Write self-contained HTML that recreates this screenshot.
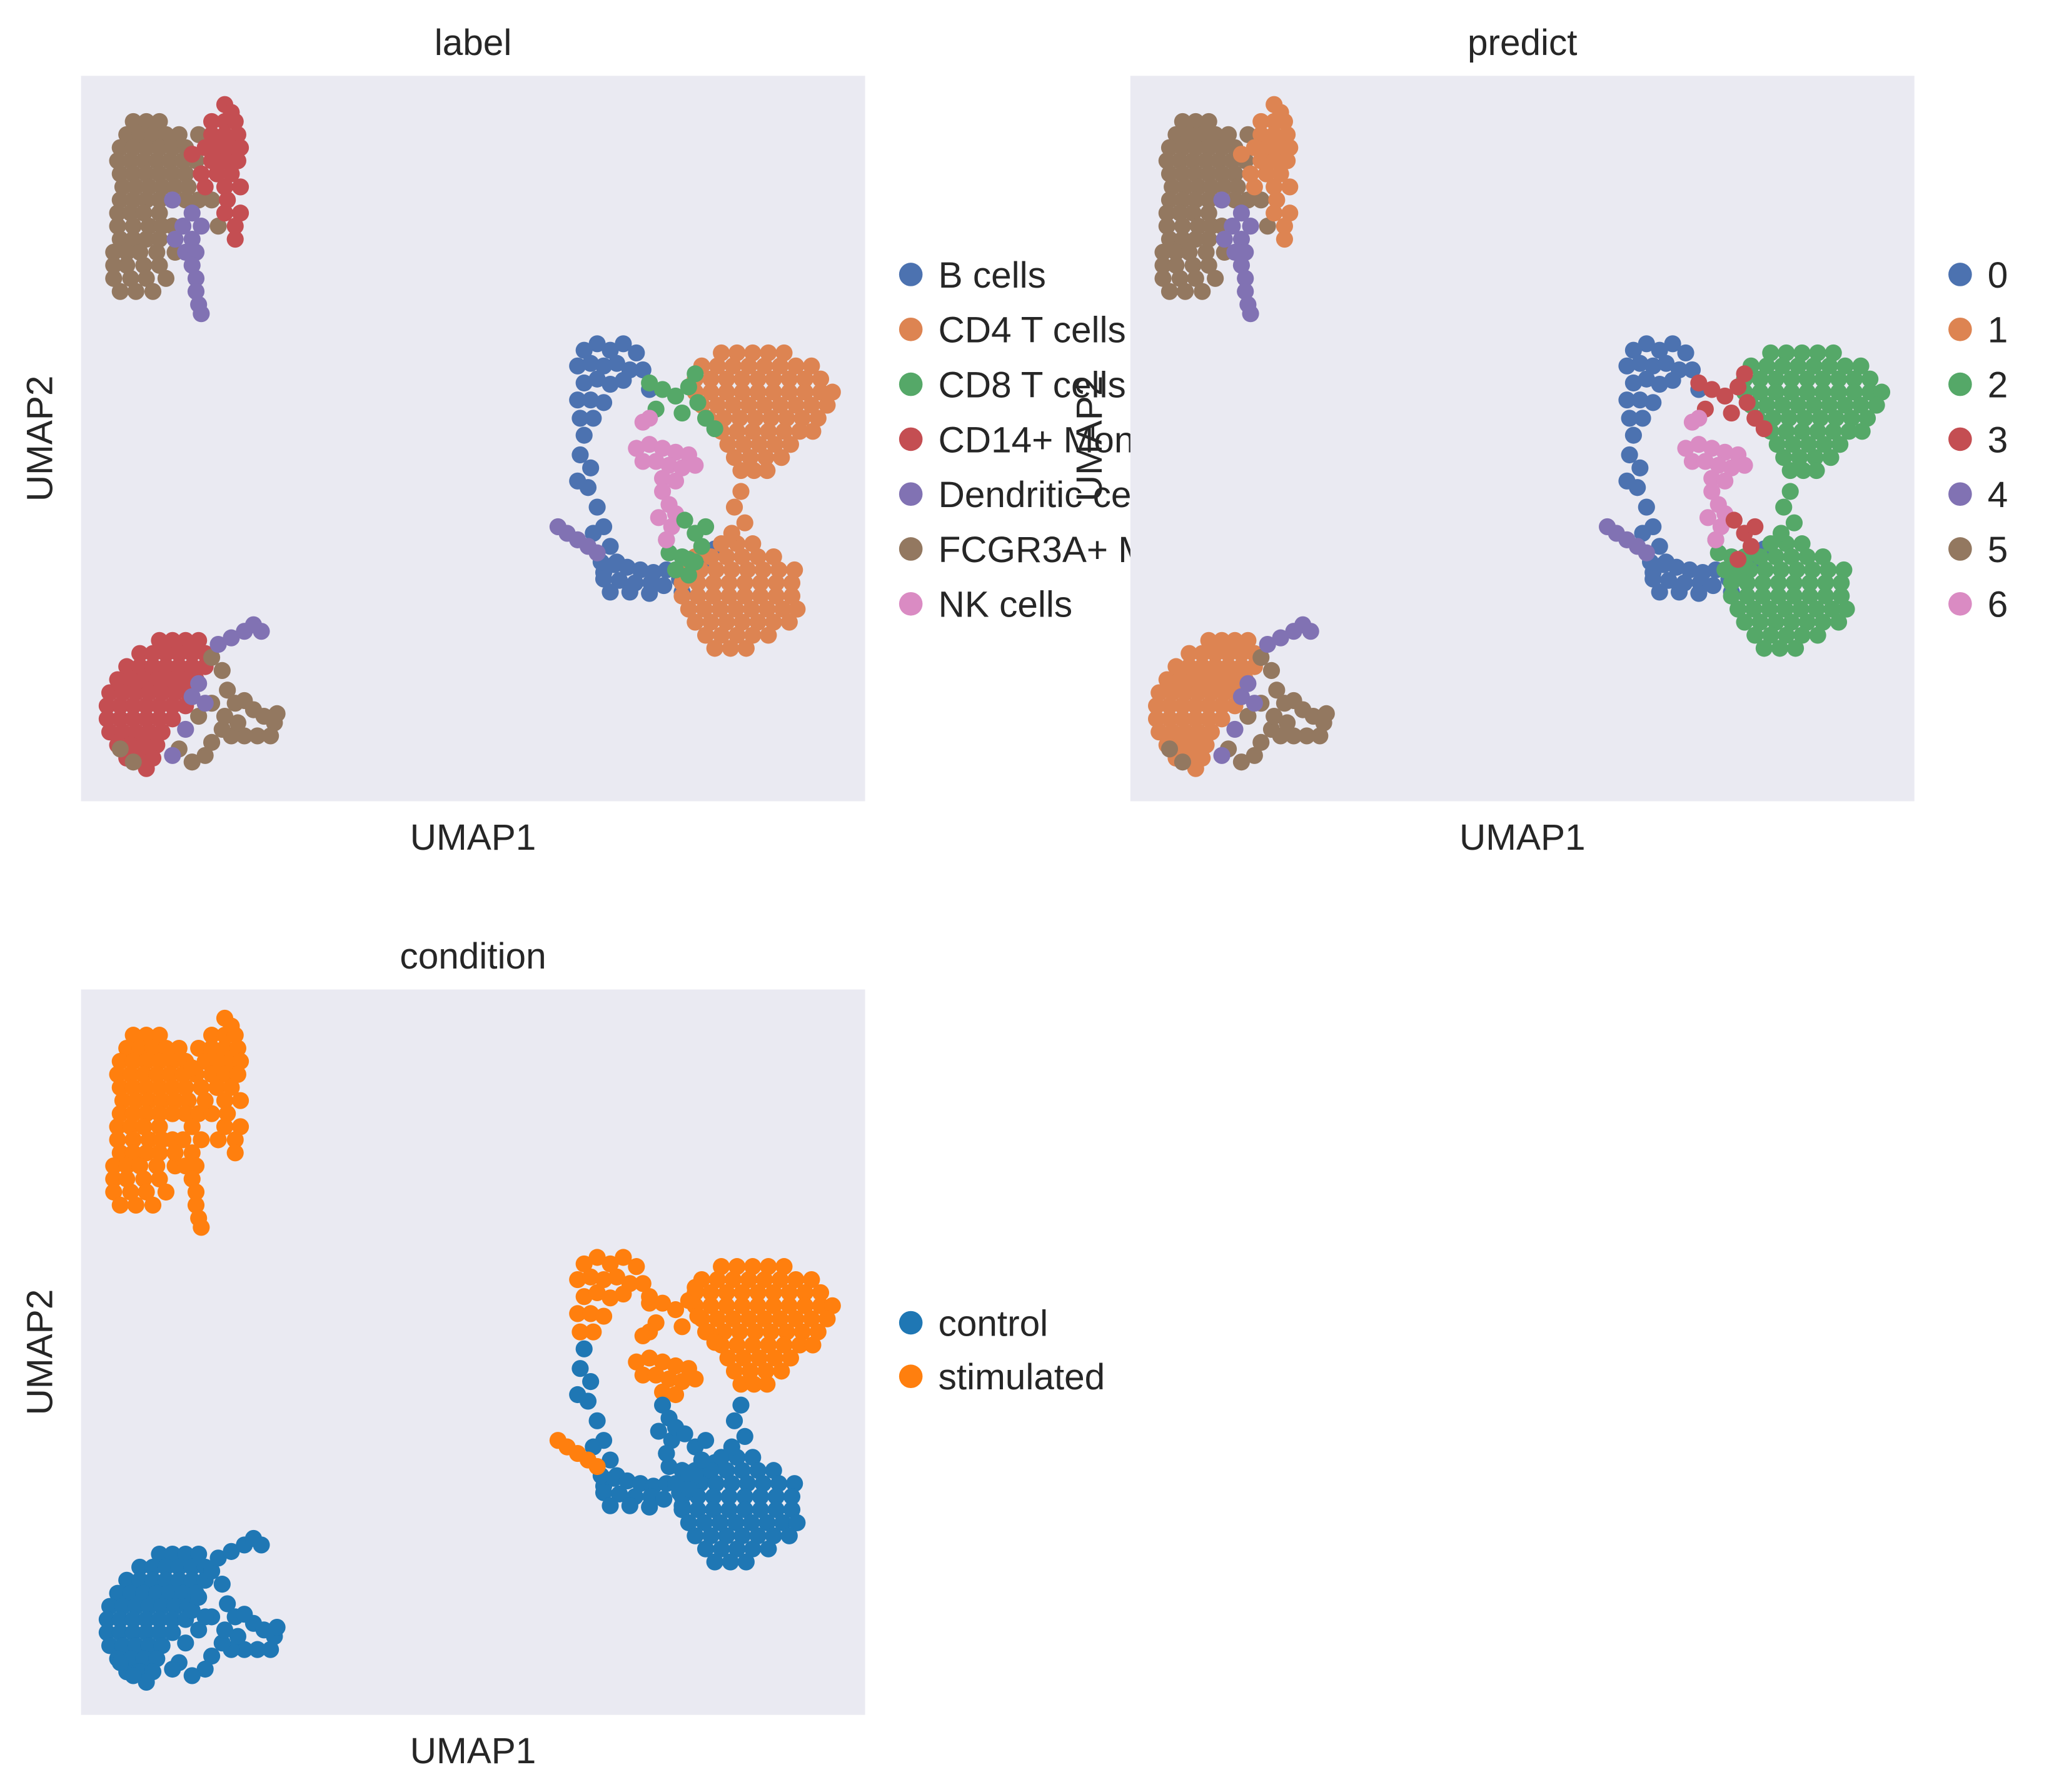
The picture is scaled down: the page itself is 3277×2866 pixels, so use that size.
<!DOCTYPE html>
<html><head><meta charset="utf-8"><style>
html,body{margin:0;padding:0;background:#fff}
svg{display:block}
text{font-family:"Liberation Sans",Arial,sans-serif;fill:#262626}
</style></head><body>
<svg id="fig" width="3277" height="2866" viewBox="0 0 1568 1371" preserveAspectRatio="none" xmlns="http://www.w3.org/2000/svg"></svg>
<script>
const labelCats = ["B cells","CD4 T cells","CD8 T cells","CD14+ Mono","Dendritic cells","FCGR3A+ Mono","NK cells"];
const predictCats = ["0","1","2","3","4","5","6"];
const conditionCats = ["control","stimulated"];
const deep = ["#4c72b0","#dd8452","#55a868","#c44e52","#8172b3","#937860","#da8bc3"];
const tab = ["#1f77b4","#ff7f0e"];
// groups: [label, predict, condition]
const groupCats = [[5,5,1],[3,1,1],[4,4,1],[3,1,0],[5,5,0],[4,4,0],[0,0,1],[0,0,0],[4,4,1],[1,2,1],[1,2,0],[2,3,1],[2,2,0],[6,6,1],[6,6,0],[2,3,0]];
const g1 = "40,35 50,35 60,35 35,45 45,45 55,45 65,45 75,45 30,55 40,55 50,55 60,55 70,55 80,55 28,65 38,65 48,65 58,65 68,65 78,65 88,65 30,75 40,75 50,75 60,75 70,75 80,75 32,85 42,85 52,85 62,85 72,85 82,85 30,95 40,95 50,95 60,95 70,95 80,95 90,95 28,105 38,105 48,105 60,105 28,115 40,115 52,115 62,115 30,125 40,125 50,125 60,125 25,135 35,135 45,135 58,135 25,145 35,145 48,145 60,145 25,155 38,155 50,155 65,155 30,165 42,165 55,165 90,45 100,95 72,135 105,115 70,115";
const g2 = "110,22 115,28 100,35 110,35 118,35 100,45 110,45 120,45 95,55 105,55 115,55 122,55 100,65 110,65 120,65 92,75 104,75 115,75 95,85 110,85 122,85 112,95 110,105 122,105 118,115 118,125 85,60";
const g3 = "85,105 78,115 92,115 85,125 72,125 80,135 88,135 85,145 88,155 88,165 90,175 92,182 70,95";
const g4 = "60,432 70,432 80,432 90,432 45,442 55,442 65,442 75,442 85,442 95,442 35,452 45,452 55,452 65,452 75,452 85,452 95,452 28,462 38,462 48,462 58,462 68,462 78,462 88,462 22,472 32,472 42,472 52,472 62,472 72,472 82,472 20,482 30,482 40,482 50,482 60,482 70,482 80,482 20,492 30,492 40,492 50,492 60,492 70,492 22,502 32,502 42,502 52,502 62,502 28,512 38,512 48,512 58,512 35,522 45,522 55,522 50,530";
const g5 = "100,445 108,455 112,470 118,480 125,478 132,485 140,490 148,495 145,505 135,505 125,505 115,505 108,500 100,510 95,520 85,525 75,515 30,515 40,525 120,495 150,488 110,490 90,490 100,480";
const g6 = "105,435 115,430 125,425 132,420 138,425 85,475 95,480 70,520 80,500 90,465";
const g7 = "385,210 395,205 405,210 415,205 425,212 380,222 390,220 400,222 410,220 420,225 385,235 395,232 405,236 415,233 380,248 390,248 400,250 382,262 392,262 430,225 435,240";
const g8 = "385,275 382,290 390,300 388,315 380,310 395,330 400,345 392,350 405,360 410,372 400,380 398,372 408,374 418,376 428,378 438,380 448,378 400,385 412,386 424,388 436,388 446,390 405,395 420,395 435,396 458,385 470,378 478,370 485,362 460,395";
const g9 = "365,345 372,350 380,355 388,360 395,365";
const g10 = "490,212 502,212 514,212 526,212 538,212 475,222 487,222 499,222 511,222 523,222 535,222 547,222 559,222 470,232 482,232 494,232 506,232 518,232 530,232 542,232 554,232 566,232 470,242 482,242 494,242 506,242 518,242 530,242 542,242 554,242 566,242 575,242 475,252 487,252 499,252 511,252 523,252 535,252 547,252 559,252 571,252 480,262 492,262 504,262 516,262 528,262 540,262 552,262 564,262 490,272 502,272 514,272 526,272 538,272 550,272 560,272 495,282 507,282 519,282 531,282 543,282 500,292 512,292 524,292 536,292 505,302 515,302 525,302";
const g11 = "490,358 502,358 514,358 470,368 482,368 494,368 506,368 518,368 530,368 462,378 474,378 486,378 498,378 510,378 522,378 534,378 546,378 460,388 472,388 484,388 496,388 508,388 520,388 532,388 544,388 460,398 472,398 484,398 496,398 508,398 520,398 532,398 544,398 465,408 477,408 489,408 501,408 513,408 525,408 537,408 548,408 470,418 482,418 494,418 506,418 518,418 530,418 542,418 478,428 490,428 502,428 514,428 526,428 485,438 497,438 509,438 505,318 500,330 508,342 498,350";
const g12 = "435,235 445,240 455,245 465,238 472,250 440,255 460,258 478,262 470,228 485,270";
const g13 = "450,365 460,368 470,372 455,378 465,382 448,355";
const g14 = "425,285 435,282 445,285 455,288 465,290 430,295 440,295 450,298 460,300 470,298 445,308 455,310 435,262 430,265";
const g15 = "445,318 450,328 442,338 452,345 448,355 455,335";
const g16 = "462,340 470,350 475,360 465,370 478,345";
const groupPts = [g1,g2,g3,g4,g5,g6,g7,g8,g9,g10,g11,g12,g13,g14,g15,g16];

const NS = "http://www.w3.org/2000/svg";
const svg = document.getElementById('fig');
function mk(tag, attrs, parent){const e=document.createElementNS(NS,tag);for(const k in attrs)e.setAttribute(k,attrs[k]);(parent||svg).appendChild(e);return e;}
const panels = [
 {key:0, x:62, y:58, title:"label", cats:labelCats, colors:deep, legY:210, legStep:42, name:"label"},
 {key:1, x:865, y:58, title:"predict", cats:predictCats, colors:deep, legY:210, legStep:42, name:"predict"},
 {key:2, x:62, y:757, title:"condition", cats:conditionCats, colors:tab, legY:1012, legStep:41, name:"condition"}
];
const PW=600, PH=555, FS=28;
function xs(p,v){return p.x + v*PW/600;}
function ys(p,v){return p.y + v*PH/555;}
panels.forEach(p=>{
  const g = mk('g',{});
  
  
  const bg = mk('rect',{x:p.x,y:p.y,width:PW,height:PH,fill:"#eaeaf2"},g);
  
  
  const cp = mk('clipPath',{id:'clip'+p.key},g);
  mk('rect',{x:p.x,y:p.y,width:PW,height:PH},cp);
  const pts = mk('g',{'clip-path':'url(#clip'+p.key+')'},g);
  
  
  groupPts.forEach((s,gi)=>{
    const col = p.colors[groupCats[gi][p.key]];
    s.trim().split(/\s+/).forEach(t=>{
      const [a,b]=t.split(',').map(Number);
      const c = mk('circle',{cx:xs(p,a),cy:ys(p,b),r:6.5,fill:col},pts);
      
      
    });
  });
  const t = mk('text',{x:p.x+PW/2,y:p.y-16,'font-size':FS,'text-anchor':'middle'},g);
  t.textContent=p.title;
  
  
  const xl = mk('text',{x:p.x+PW/2,y:p.y+PH+37,'font-size':FS,'text-anchor':'middle'},g);
  xl.textContent="UMAP1";
  
  
  const yl = mk('text',{x:0,y:0,'font-size':FS,'text-anchor':'middle',transform:`translate(${p.x-22},${p.y+PH/2}) rotate(-90)`},g);
  yl.textContent="UMAP2";
  
  
  const lg = mk('g',{},g);
  
  
  p.cats.forEach((c,i)=>{
    const yy = p.legY + i*p.legStep;
    const e = mk('g',{},lg);
    
    
    mk('circle',{cx:p.x+PW+35,cy:yy,r:9,fill:p.colors[i]},e);
    const tx = mk('text',{x:p.x+PW+56,y:yy+10,'font-size':FS},e);
    tx.textContent=c;
  });
});
const gs = svg.querySelectorAll(':scope > g');
svg.appendChild(gs[1]);
svg.appendChild(gs[2]);
</script>
</body></html>
